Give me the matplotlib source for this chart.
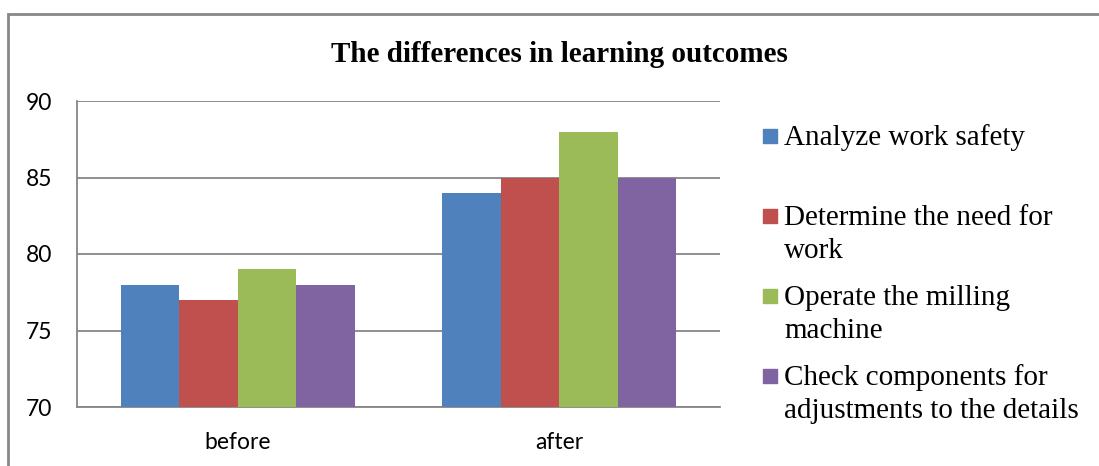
import numpy as np
import matplotlib
matplotlib.use("Agg")
import matplotlib.pyplot as plt
from matplotlib.patches import Rectangle

groups = ["before", "after"]
series = ["Analyze work safety", "Determine the need for\nwork",
          "Operate the milling\nmachine",
          "Check components for\nadjustments to the details"]
safety = [78, 84]
need = [77, 85]
milling = [79, 88]
check = [78, 85]
colors = ["#4F81BD", "#C0504D", "#9BBB59", "#8064A2"]

values = [safety, need, milling, check]

fig = plt.figure(figsize=(10.99, 4.66), dpi=100)
ax = fig.add_axes([77 / 1099, 1 - 407 / 466, 643 / 1099, 306 / 466])

x = np.arange(len(groups))
w = 0.182
for i, vals in enumerate(values):
    ax.bar(x + (i - 1.5) * w, np.array(vals) - 70, bottom=70, width=w,
           color=colors[i], edgecolor="none", zorder=3)

ax.set_xlim(-0.5, 1.5)
ax.set_ylim(70, 90)
ax.set_yticks([70, 75, 80, 85, 90])
ax.set_xticks(x)
ax.set_xticklabels(groups)
ax.yaxis.grid(True, color="#868686", linewidth=1.3, zorder=0)
for s in ["top", "right"]:
    ax.spines[s].set_visible(False)
for s in ["left", "bottom"]:
    ax.spines[s].set_color("#868686")
    ax.spines[s].set_linewidth(1.3)
ax.tick_params(length=0, labelsize=16.5)
ax.tick_params(axis="y", pad=18)
ax.tick_params(axis="x", pad=18)
for lab in ax.get_xticklabels() + ax.get_yticklabels():
    lab.set_family("Lato")

fig.text(559 / 1099, 1 - 62 / 466, "The differences in learning outcomes",
         ha="center", va="baseline", family="Liberation Serif",
         fontweight="bold", fontsize=21)

# legend drawn by hand so the markers sit on the first line of each label
for i, name in enumerate(series):
    base = 145 + i * 80
    fig.patches.append(Rectangle((763 / 1099, 1 - (base - 2) / 466),
                                 14 / 1099, 14 / 466, transform=fig.transFigure,
                                 color=colors[i], figure=fig))
    for k, line in enumerate(name.split("\n")):
        fig.text(784 / 1099, 1 - (base + k * 33) / 466, line, ha="left",
                 va="baseline", family="Liberation Serif", fontsize=21)

# outer chart border
fig.patches.append(Rectangle((8 / 1099, -0.1), 1.2, 1 - 14 / 466 + 0.1,
                             transform=fig.transFigure, fill=False,
                             edgecolor="#888888", linewidth=2, figure=fig))

fig.savefig("out.png", dpi=100)
